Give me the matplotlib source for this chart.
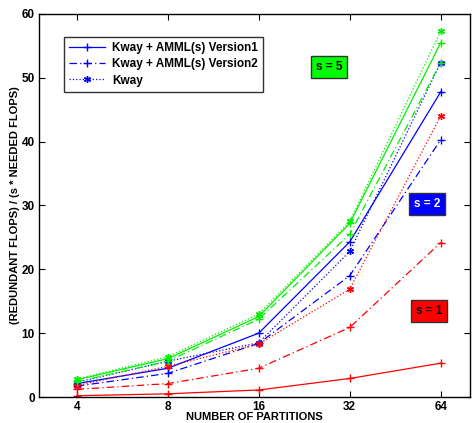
import matplotlib
matplotlib.use("Agg")
import matplotlib.pyplot as plt
from matplotlib.ticker import FixedLocator, FixedFormatter, NullLocator

plt.rcParams['font.family'] = ['Liberation Sans', 'DejaVu Sans']
plt.rcParams['font.weight'] = 'bold'

partitions = [4, 8, 16, 32, 64]
tick_labels = ['4', '8', '16', '32', '64']

red_v1 = [0.2, 0.5, 1.1, 2.9, 5.3]
red_v2 = [1.2, 2.1, 4.5, 10.9, 24.2]
red_kway = [1.8, 4.8, 8.3, 16.9, 44.0]
blue_v1 = [2.1, 4.5, 10.0, 24.3, 47.8]
blue_v2 = [1.7, 3.7, 8.4, 19.0, 40.3]
blue_kway = [2.3, 5.6, 8.5, 22.8, 52.4]
green_v1 = [2.7, 6.0, 12.6, 27.2, 55.5]
green_v2 = [2.4, 5.6, 12.2, 25.5, 52.4]
green_kway = [2.8, 6.3, 13.0, 27.5, 57.3]

legend_labels = ['Kway + AMML(s) Version1', 'Kway + AMML(s) Version2', 'Kway']

RED, BLUE, GREEN = '#ff0000', '#0000ff', '#00f000'
AST = (6, 2, 0)

fig = plt.figure(figsize=(4.73, 4.23), dpi=100)
ax = fig.add_axes([39/473, 1-397/423, 431/473, 383/423])

lw = 0.9
DASHDOT = (0, (6, 2.5, 1, 2.5))
series = [
    (blue_v1, BLUE, '-', '+', 6),
    (blue_v2, BLUE, DASHDOT, '+', 6),
    (blue_kway, BLUE, ':', AST, 5),
    (red_v1, RED, '-', '+', 6),
    (red_v2, RED, DASHDOT, '+', 6),
    (red_kway, RED, ':', AST, 5),
    (green_v1, GREEN, '-', '+', 6),
    (green_v2, GREEN, DASHDOT, '+', 6),
    (green_kway, GREEN, ':', AST, 5),
]
handles = []
for vals, c, ls, mk, ms in series:
    h, = ax.plot(partitions, vals, color=c, linestyle=ls, marker=mk,
                 markersize=ms, linewidth=lw, markeredgewidth=1.0)
    handles.append(h)

ax.set_xscale('log')
ax.set_xlim(3, 80)
ax.set_ylim(0, 60)
ax.xaxis.set_major_locator(FixedLocator(partitions))
ax.xaxis.set_major_formatter(FixedFormatter(tick_labels))
ax.xaxis.set_minor_locator(NullLocator())
ax.set_yticks(range(0, 61, 10))
ax.tick_params(direction='in', top=True, right=True, length=4, width=0.8,
               labelsize=8.5, pad=3)
for lab in ax.get_xticklabels() + ax.get_yticklabels():
    lab.set_fontweight('bold')
for sp in ax.spines.values():
    sp.set_linewidth(1.0)

ax.set_xlabel('NUMBER OF PARTITIONS', fontsize=8, fontweight='bold', labelpad=-1)
ax.set_ylabel('(REDUNDANT FLOPS) / (s * NEEDED FLOPS)', fontsize=8,
              fontweight='bold', labelpad=1)

leg = ax.legend(handles[:3], legend_labels, loc='upper left',
                bbox_to_anchor=(0.058, 0.94), borderaxespad=0, frameon=True,
                fancybox=False, edgecolor='black', handlelength=3.0,
                borderpad=0.45, labelspacing=0.35, handletextpad=0.6,
                prop={'weight': 'bold', 'size': 8.5})
leg.get_frame().set_linewidth(1.0)

box = dict(boxstyle='square,pad=0.4', edgecolor='#333333', linewidth=1.0)
ax.text(0.673, 0.862, 's = 5', transform=ax.transAxes, ha='center', va='center',
        fontsize=8.5, fontweight='bold', color='black', bbox=dict(box, facecolor='#00ff00'))
ax.text(0.900, 0.504, 's = 2', transform=ax.transAxes, ha='center', va='center',
        fontsize=8.5, fontweight='bold', color='white', bbox=dict(box, facecolor='#0000ff'))
ax.text(0.905, 0.225, 's = 1', transform=ax.transAxes, ha='center', va='center',
        fontsize=8.5, fontweight='bold', color='black', bbox=dict(box, facecolor='#ff0000'))

fig.savefig('out.png', dpi=100)
